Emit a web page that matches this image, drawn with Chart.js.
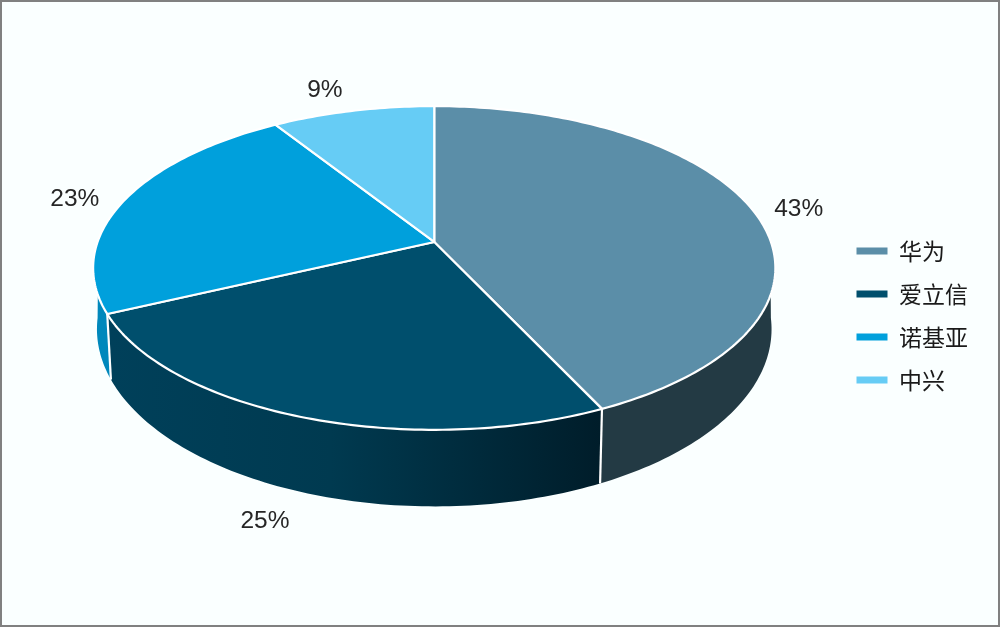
<!DOCTYPE html>
<html>
<head>
<meta charset="utf-8">
<style>
html,body{margin:0;padding:0;background:#FAFFFF;overflow:hidden}
canvas{display:block;outline:2px solid #808080;outline-offset:-2px}
</style>
<script src="https://cdn.jsdelivr.net/npm/chart.js@4"></script>
</head>
<body>
<canvas id="c" width="1000" height="627"></canvas>
<script>
const categories = ['华为', '爱立信', '诺基亚', '中兴'];
const shares = [43, 25, 23, 9];
const topColors = ['#5B8EA8', '#004F6D', '#00A0DC', '#66CCF5'];
const wallColors = ['#233A44', null, '#0088BC', '#4FA8CC'];

const view = {
  tilt: 0.1605,
  topX: 1.0809, topY: 0.5062, apexDy: -0.236,
  wallX: 1.0688, wallY: 0.5545, wallDy: -0.0477,
  topFrom: 108.5, topTo: 251.5, wallFrom: 95.7, wallTo: 264.3
};
const labelShift = [[47, 0], [-35, 105], [-50, -1], [-28, -21]];

const rad = d => d * Math.PI / 180;
function rim(arc, t, kx, ky, dy) {
  const u = Math.sin(t), v = Math.cos(t), d = 1 + view.tilt * v, R = arc.outerRadius;
  return [arc.x + kx * R * u / d, arc.y + dy * R - ky * R * v / d];
}
const topRim = (a, t) => rim(a, t, view.topX, view.topY, view.apexDy);
const wallRim = (a, t) => rim(a, t, view.wallX, view.wallY, view.wallDy);
function sweep(ctx, fn, a, from, to) {
  const n = Math.max(2, Math.ceil(Math.abs(to - from) / rad(1)));
  for (let i = 0; i <= n; i++) {
    const p = fn(a, from + (to - from) * i / n);
    ctx.lineTo(p[0], p[1]);
  }
}
const pie3d = {
  id: 'pie3d',
  beforeDatasetDraw(chart) {
    const ctx = chart.ctx, arcs = chart.getDatasetMeta(0).data;
    const spans = arcs.map(a => [a.startAngle + Math.PI / 2, a.endAngle + Math.PI / 2]);
    ctx.save();
    arcs.forEach((a, i) => {
      const s = spans[i][0], e = spans[i][1];
      if (e <= rad(view.topFrom) || s >= rad(view.topTo)) return;
      ctx.beginPath();
      sweep(ctx, topRim, a, Math.max(s, rad(view.topFrom)), Math.min(e, rad(view.topTo)));
      sweep(ctx, wallRim, a, Math.min(e, rad(view.wallTo)), Math.max(s, rad(view.wallFrom)));
      ctx.closePath();
      if (wallColors[i]) {
        ctx.fillStyle = wallColors[i];
      } else {
        const l = wallRim(a, s), r = wallRim(a, e);
        const g = ctx.createLinearGradient(r[0], 0, l[0], 0);
        g.addColorStop(0, '#00405A');
        g.addColorStop(0.45, '#003A50');
        g.addColorStop(1, '#001D2A');
        ctx.fillStyle = g;
      }
      ctx.fill();
    });
    ctx.strokeStyle = '#FFFFFF';
    ctx.lineWidth = 2.2;
    arcs.forEach((a, i) => {
      const s = spans[i][0];
      if (s > rad(view.topFrom) && s < rad(view.topTo)) {
        const p = topRim(a, s), q = wallRim(a, s);
        ctx.beginPath(); ctx.moveTo(p[0], p[1]); ctx.lineTo(q[0], q[1]); ctx.stroke();
      }
    });
    ctx.lineJoin = 'round';
    arcs.forEach((a, i) => {
      const s = spans[i][0], e = spans[i][1];
      const c = [a.x, a.y + view.apexDy * a.outerRadius];
      ctx.beginPath();
      ctx.moveTo(c[0], c[1]);
      sweep(ctx, topRim, a, s, e);
      ctx.closePath();
      ctx.fillStyle = topColors[i];
      ctx.fill();
      ctx.stroke();
    });
    ctx.fillStyle = '#262626';
    ctx.font = '24.5px "Liberation Sans"';
    ctx.textAlign = 'center';
    ctx.textBaseline = 'middle';
    arcs.forEach((a, i) => {
      const p = topRim(a, (spans[i][0] + spans[i][1]) / 2);
      ctx.fillText(shares[i] + '%', p[0] + labelShift[i][0], p[1] + labelShift[i][1]);
    });
    ctx.restore();
    return false;
  }
};

new Chart(document.getElementById('c'), {
  type: 'pie',
  data: {
    labels: categories,
    datasets: [{ data: shares, backgroundColor: topColors, borderWidth: 0 }]
  },
  plugins: [pie3d],
  options: {
    responsive: false,
    animation: false,
    layout: { padding: { left: 32, right: 22, top: 4, bottom: 0 } },
    plugins: {
      tooltip: { enabled: false },
      legend: {
        position: 'right',
        labels: {
          boxWidth: 31, boxHeight: 7, padding: 20,
          color: '#1A1A1A',
          font: { family: '"Noto Sans CJK SC"', size: 23 }
        }
      }
    }
  }
});
</script>
</body>
</html>
